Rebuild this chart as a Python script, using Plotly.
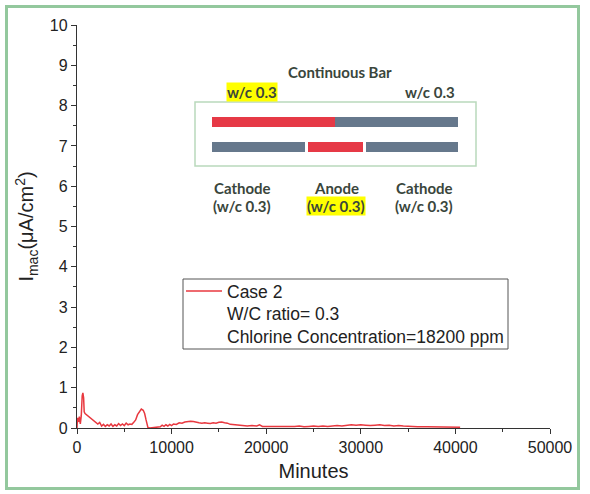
import plotly.graph_objects as go

# Macrocell current, Case 2 (minutes vs I_mac in uA/cm^2)
minutes = [0, 50, 150, 250, 350, 450, 550, 620, 700, 760, 850, 1000, 1200, 1400, 1600, 1800,
           2000, 2200, 2400, 2600, 2800, 3000, 3200, 3400, 3600, 3800, 4000, 4200, 4400, 4600,
           4800, 5000, 5200, 5400, 5600, 5800, 6000, 6200, 6400, 6600, 6800, 7000, 7150, 7300,
           7400, 7500, 7700, 8000, 8300, 8600, 8800, 9000, 9200, 9400, 9600, 9800, 10000, 10200,
           10500, 10800, 11100, 11400, 11700, 12000, 12300, 12600, 12900, 13200, 13500, 13800,
           14100, 14400, 14700, 15000, 15300, 15600, 15900, 16200, 16500, 17000, 17500, 18000,
           18500, 19000, 19300, 19600, 20000, 20500, 21000, 21500, 22000, 22500, 23000, 23500,
           24000, 24500, 25000, 25500, 26000, 26500, 27000, 27500, 28000, 28500, 29000, 29500,
           30000, 30500, 31000, 31500, 32000, 32500, 33000, 33500, 34000, 34500, 35000, 35500,
           36000, 37000, 38000, 39000, 40000, 40500]
imac = [0.0, 0.25, 0.15, 0.28, 0.1, 0.3, 0.8, 0.87, 0.75, 0.4, 0.36, 0.33, 0.3, 0.26, 0.22, 0.18,
        0.15, 0.1, 0.14, 0.05, 0.09, 0.04, 0.08, 0.05, 0.1, 0.04, 0.08, 0.05, 0.11, 0.06,
        0.1, 0.06, 0.12, 0.08, 0.1, 0.09, 0.14, 0.2, 0.33, 0.42, 0.47, 0.44, 0.36, 0.2,
        0.06, 0.01, 0.0, 0.01, 0.02, 0.04, 0.03, 0.07, 0.04, 0.08, 0.05, 0.09, 0.06, 0.1,
        0.09, 0.13, 0.12, 0.15, 0.16, 0.17, 0.16, 0.14, 0.13, 0.12, 0.13, 0.12,
        0.11, 0.13, 0.12, 0.14, 0.15, 0.13, 0.12, 0.09, 0.08, 0.07, 0.06, 0.05,
        0.06, 0.05, 0.08, 0.04, 0.04, 0.03, 0.04, 0.03, 0.04, 0.03, 0.04, 0.05,
        0.03, 0.04, 0.05, 0.04, 0.05, 0.04, 0.05, 0.06, 0.05, 0.07, 0.08, 0.07,
        0.08, 0.07, 0.06, 0.07, 0.08, 0.06, 0.07, 0.05, 0.06, 0.05, 0.04, 0.04,
        0.03, 0.03, 0.03, 0.02, 0.03, 0.02]

legend_lines = ["Case 2", "W/C ratio= 0.3", "Chlorine Concentration=18200 ppm"]
x_range = [0, 50000]
y_range = [0, 10]

RED = "#e8383f"
BAR_RED = "#e63946"
BAR_GRAY = "#66788c"
TXT = "#3a463c"
FRAME = "#93c89d"

# plot-area pixel geometry (590 x 494 page)
L, R, T, B = 77, 550, 25, 428
W, H = R - L, B - T


def px(xp):
    return (xp - L) / W


def py(yp):
    return (B - yp) / H


fig = go.Figure()
fig.add_trace(go.Scatter(x=minutes, y=imac, mode="lines", name="<br>".join(legend_lines),
                         line=dict(color=RED, width=1.5)))

axis_common = dict(showline=True, linecolor="#333", linewidth=1.3, ticks="outside",
                   ticklen=5, tickwidth=1.3, tickcolor="#333", showgrid=False, zeroline=False,
                   tickfont=dict(family="Arial", size=16, color="#222"))

fig.update_xaxes(range=x_range, dtick=10000, tickformat="d",
                 minor=dict(dtick=5000, ticks="outside", ticklen=3, tickcolor="#333"),
                 title=dict(text="Minutes", font=dict(family="Arial", size=20, color="#222"),
                            standoff=8),
                 **axis_common)
fig.update_yaxes(range=y_range, dtick=1,
                 minor=dict(dtick=0.5, ticks="outside", ticklen=3, tickcolor="#333"),
                 title=dict(text="I<sub>mac</sub>(μA/cm<sup>2</sup>)",
                            font=dict(family="Arial", size=20, color="#222"), standoff=10),
                 **axis_common)

shapes = []
# outer green frame
shapes.append(dict(type="rect", xref="paper", yref="paper",
                   x0=px(6.5), x1=px(578.5), y0=py(488.5), y1=py(6.5),
                   line=dict(color=FRAME, width=3), layer="below"))
# legend frame
shapes.append(dict(type="rect", xref="paper", yref="paper",
                   x0=px(183), x1=px(508), y0=py(349), y1=py(279),
                   line=dict(color="#555", width=1), fillcolor="white", layer="below"))
# inset frame
shapes.append(dict(type="rect", xref="paper", yref="paper",
                   x0=px(195), x1=px(476), y0=py(166), y1=py(102),
                   line=dict(color="#b9d9bc", width=1.5)))
# continuous bar: anode half + cathode half
bars = [
    (212, 335, 122, BAR_RED), (335, 458, 122, BAR_GRAY),
    (212, 305, 147, BAR_GRAY), (308, 363, 147, BAR_RED), (366, 458, 147, BAR_GRAY),
]
for x0, x1, yc, col in bars:
    shapes.append(dict(type="rect", xref="paper", yref="paper",
                       x0=px(x0), x1=px(x1), y0=py(yc + 5), y1=py(yc - 5),
                       fillcolor=col, line=dict(width=0)))

annotations = []


def label(text, xp, yp, hl=False, size=15):
    annotations.append(dict(text=text, xref="paper", yref="paper", x=px(xp), y=py(yp),
                            showarrow=False, xanchor="center", yanchor="middle",
                            font=dict(family="Lato", size=size, color=TXT),
                            bgcolor="#ffff00" if hl else "rgba(0,0,0,0)", borderpad=0))


label("<b>Continuous Bar</b>", 340, 72)
label("<b>w/c 0.3</b>", 252, 92, hl=True)
label("<b>w/c 0.3</b>", 430, 92)
label("<b>Cathode</b>", 242, 188)
label("<b>(w/c 0.3)</b>", 242, 206)
label("<b>Anode</b>", 336, 188)
label("<b>(w/c 0.3)</b>", 336, 206, hl=True)
label("<b>Cathode</b>", 424, 188)
label("<b>(w/c 0.3)</b>", 424, 206)

fig.update_layout(
    width=590, height=494,
    margin=dict(l=L, r=590 - R, t=T, b=494 - B),
    paper_bgcolor="white", plot_bgcolor="rgba(0,0,0,0)",
    shapes=shapes, annotations=annotations,
    showlegend=True,
    legend=dict(x=px(181), y=py(273), xanchor="left", yanchor="top",
                bgcolor="rgba(0,0,0,0)", borderwidth=0,
                font=dict(family="Arial", size=17.5, color="#222"),
                itemwidth=36, valign="top"),
)

fig.write_html("out.html")
